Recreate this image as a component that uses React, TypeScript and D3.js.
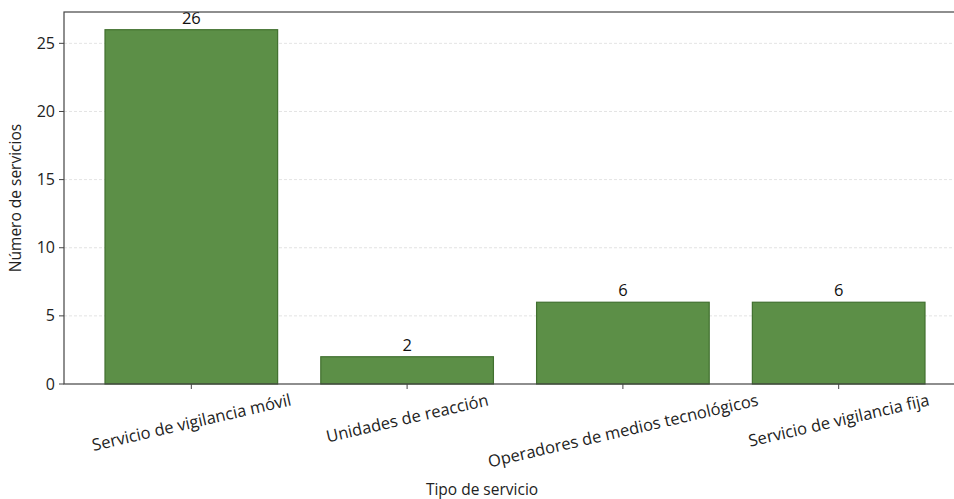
import React, { useEffect, useRef } from "react";
import * as d3 from "d3";

const categories = [
  "Servicio de vigilancia móvil",
  "Unidades de reacción",
  "Operadores de medios tecnológicos",
  "Servicio de vigilancia fija",
];
const values = [26, 2, 6, 6];
const yTicks = [0, 5, 10, 15, 20, 25];
const xAxisLabel = "Tipo de servicio";
const yAxisLabel = "Número de servicios";

const W = 954;
const H = 499;
const M = { left: 64, right: 966, top: 12, bottom: 384 };
const FONT = "'Open Sans', 'DejaVu Sans', sans-serif";

export default function App() {
  const ref = useRef<SVGSVGElement>(null);

  useEffect(() => {
    const svg = d3.select(ref.current);
    svg.selectAll("*").remove();

    const n = categories.length;
    const x = d3
      .scaleLinear()
      .domain([-0.59, n - 1 + 0.59])
      .range([M.left, M.right]);
    const y = d3
      .scaleLinear()
      .domain([0, d3.max(values)! * 1.05])
      .range([M.bottom, M.top]);

    const g = svg.append("g");

    // grid
    g.selectAll("line.grid")
      .data(yTicks.filter((t) => t > 0))
      .join("line")
      .attr("x1", M.left)
      .attr("x2", M.right)
      .attr("y1", (d) => y(d))
      .attr("y2", (d) => y(d))
      .attr("stroke", "#dcdcdc")
      .attr("stroke-width", 0.8)
      .attr("stroke-dasharray", "3,2");

    // bars
    const bw = 0.8;
    g.selectAll("rect.bar")
      .data(values)
      .join("rect")
      .attr("x", (_, i) => x(i - bw / 2))
      .attr("width", (_, i) => x(i + bw / 2) - x(i - bw / 2))
      .attr("y", (d) => y(d))
      .attr("height", (d) => y(0) - y(d))
      .attr("fill", "#5c8f47")
      .attr("stroke", "#41702f")
      .attr("stroke-width", 1.2);

    // value labels
    g.selectAll("text.val")
      .data(values)
      .join("text")
      .attr("x", (_, i) => x(i))
      .attr("y", (d) => y(d) - 6)
      .attr("text-anchor", "middle")
      .attr("font-family", FONT)
      .attr("font-size", 16.5)
      .attr("fill", "#111")
      .text((d) => String(d));

    // spines
    const spine = "#444";
    g.append("rect")
      .attr("x", M.left)
      .attr("y", M.top)
      .attr("width", M.right - M.left)
      .attr("height", M.bottom - M.top)
      .attr("fill", "none")
      .attr("stroke", spine)
      .attr("stroke-width", 1.2);

    // y ticks
    yTicks.forEach((t) => {
      g.append("line")
        .attr("x1", M.left - 5)
        .attr("x2", M.left)
        .attr("y1", y(t))
        .attr("y2", y(t))
        .attr("stroke", spine);
      g.append("text")
        .attr("x", M.left - 9)
        .attr("y", y(t))
        .attr("dy", "0.35em")
        .attr("text-anchor", "end")
        .attr("font-family", FONT)
        .attr("font-size", 16)
        .attr("fill", "#222")
        .text(String(t));
    });

    // x ticks and rotated labels
    const ang = 13;
    const rad = (ang * Math.PI) / 180;
    categories.forEach((c, i) => {
      const cx = x(i);
      g.append("line")
        .attr("x1", cx)
        .attr("x2", cx)
        .attr("y1", M.bottom)
        .attr("y2", M.bottom + 5)
        .attr("stroke", spine);
      const t = g
        .append("text")
        .attr("text-anchor", "middle")
        .attr("dominant-baseline", "central")
        .attr("font-family", FONT)
        .attr("font-size", 16.5)
        .attr("fill", "#222")
        .text(c);
      const tw = (t.node() as SVGTextElement).getComputedTextLength();
      const th = 16;
      const bh = tw * Math.sin(rad) + th * Math.cos(rad);
      const cy = M.bottom + 7 + bh / 2;
      t.attr("transform", `translate(${cx},${cy}) rotate(${-ang})`);
    });

    // axis labels
    g.append("text")
      .attr("x", 482)
      .attr("y", 495)
      .attr("text-anchor", "middle")
      .attr("font-family", FONT)
      .attr("font-size", 15.5)
      .attr("fill", "#222")
      .text(xAxisLabel);

    g.append("text")
      .attr("transform", `translate(21,${(M.top + M.bottom) / 2}) rotate(-90)`)
      .attr("text-anchor", "middle")
      .attr("font-family", FONT)
      .attr("font-size", 15.5)
      .attr("fill", "#222")
      .text(yAxisLabel);
  }, []);

  return (
    <svg
      ref={ref}
      width={W}
      height={H}
      style={{ position: "absolute", left: 0, top: 0, background: "#fff" }}
    />
  );
}
